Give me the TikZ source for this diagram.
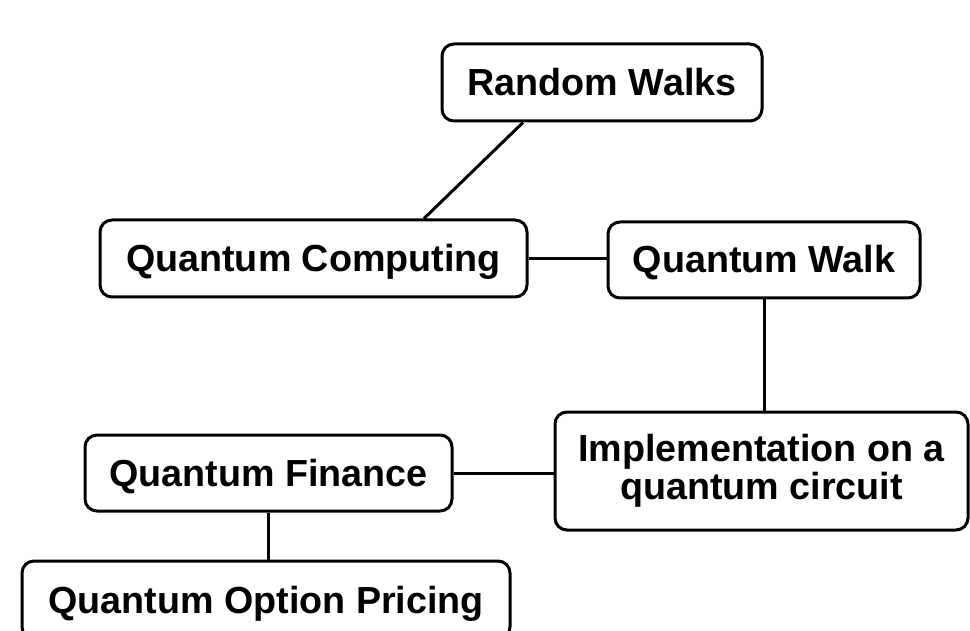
\documentclass[tikz,border=0pt]{standalone}
\usepackage{fontspec}
\setmainfont{Liberation Sans}
\begin{document}
\begin{tikzpicture}[x=1pt,y=-1pt,
  topic/.style={draw=black,line width=3pt,rounded corners=12pt,fill=white,
    inner sep=0pt,align=center,font=\fontsize{37.7}{37.5}\selectfont\bfseries},
  oneline/.style={topic,text height=26pt,text depth=0pt},
  link/.style={draw=black,line width=3pt}]
\useasboundingbox[fill=white] (0,0) rectangle (970,631);
\node[oneline,minimum width=320pt,minimum height=77pt] (rw) at (602,82.5) {Random Walks};
\node[oneline,minimum width=427pt,minimum height=77pt] (qc) at (313.5,258.5) {Quantum Computing};
\node[oneline,minimum width=312pt,minimum height=76pt] (qw) at (764,260) {Quantum Walk};
\node[topic,minimum width=413pt,minimum height=118pt] (impl) at (761.5,471) {Implementation on a\\quantum circuit};
\node[oneline,minimum width=367pt,minimum height=76pt] (qf) at (268.5,473) {Quantum Finance};
\node[oneline,minimum width=488pt,minimum height=78pt] (qop) at (266,600) {Quantum Option Pricing};
\draw[link] ([xshift=-79pt]rw.south) -- ([xshift=110.5pt]qc.north);
\draw[link] (qc.east) -- (qw.west |- qc.east);
\draw[link] (qw.south) -- (impl.north -| qw.south);
\draw[link] (impl.west |- qf.east) -- (qf.east);
\draw[link] (qf.south) -- (qop.north -| qf.south);
\end{tikzpicture}
\end{document}
